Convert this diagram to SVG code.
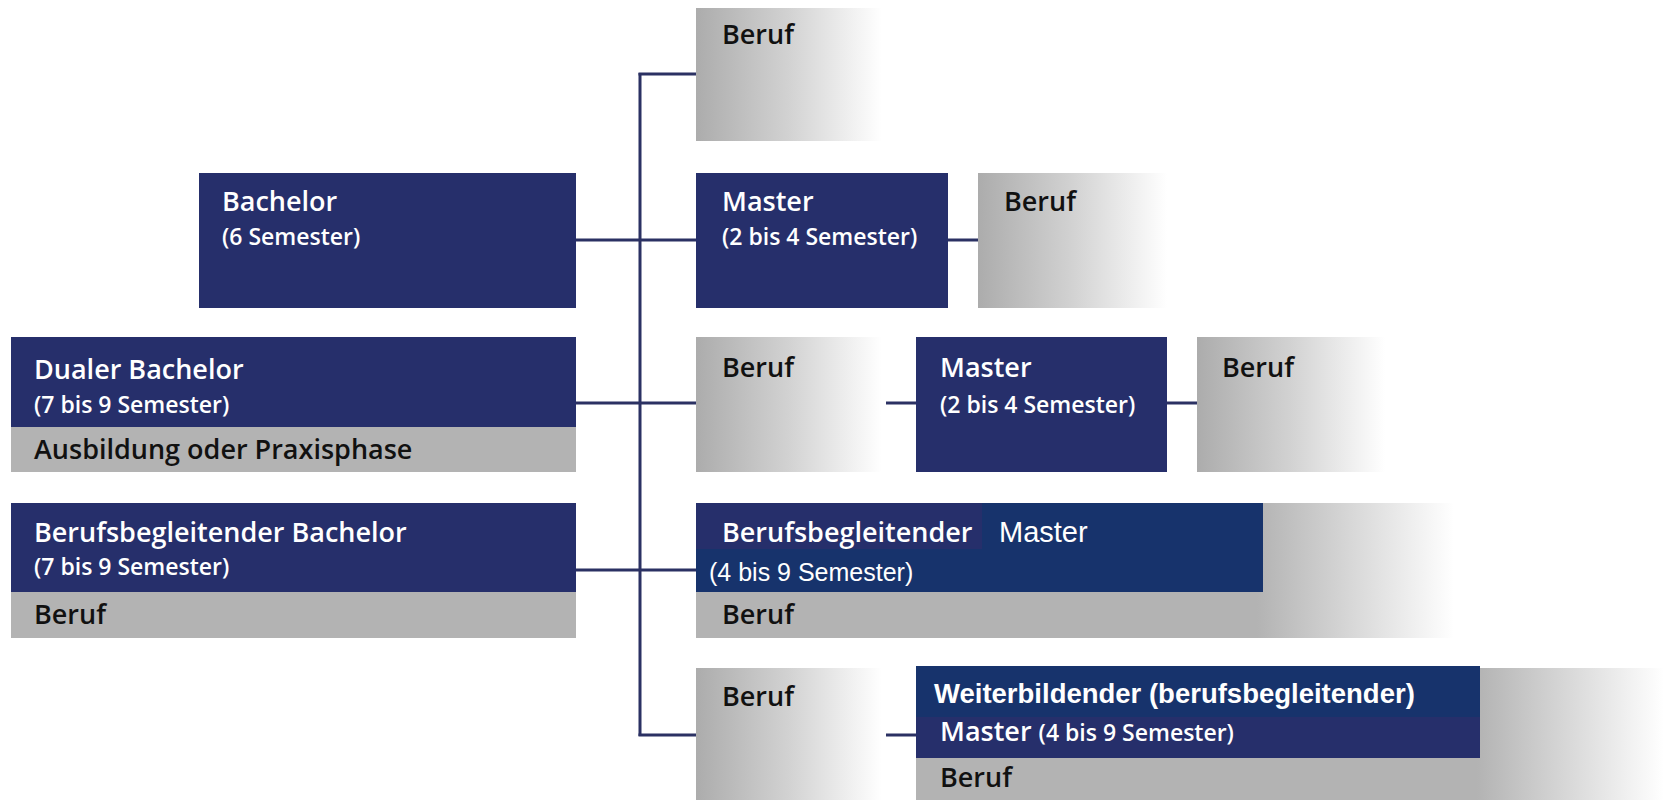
<svg xmlns="http://www.w3.org/2000/svg" width="1664" height="800" viewBox="0 0 1664 800">
<style>
.navy{fill:#262f6b}
.navy2{fill:#17336c}
.gray{fill:#b3b3b3}
.t{font-family:"Open Sans","Noto Sans","DejaVu Sans",sans-serif;font-weight:600;fill:#ffffff}
.tk{font-family:"Open Sans","Noto Sans","DejaVu Sans",sans-serif;font-weight:600;fill:#111111}
.big{font-size:27px}
.sm{font-size:23px}
.a{font-family:"Liberation Sans",Arial,sans-serif;fill:#ffffff}
.conn line{stroke:#2b3163;stroke-width:3}
</style>
<defs>
<linearGradient id="fade" x1="0" y1="0" x2="1" y2="0">
<stop offset="0" stop-color="#acacac"/>
<stop offset="0.5" stop-color="#d2d2d2"/>
<stop offset="1" stop-color="#ffffff"/>
</linearGradient>
<linearGradient id="fade4" x1="696" y1="0" x2="1454" y2="0" gradientUnits="userSpaceOnUse">
<stop offset="0" stop-color="#b3b3b3"/>
<stop offset="0.74" stop-color="#b3b3b3"/>
<stop offset="1" stop-color="#ffffff"/>
</linearGradient>
<linearGradient id="fade5" x1="916" y1="0" x2="1664" y2="0" gradientUnits="userSpaceOnUse">
<stop offset="0" stop-color="#b3b3b3"/>
<stop offset="0.75" stop-color="#b3b3b3"/>
<stop offset="1" stop-color="#ffffff"/>
</linearGradient>
</defs>
<rect width="1664" height="800" fill="#ffffff"/>

<g id="connectors" class="conn">
<line x1="640" y1="73" x2="640" y2="736"/>
<line x1="638.5" y1="74" x2="696" y2="74"/>
<line x1="576" y1="240" x2="696" y2="240"/>
<line x1="948" y1="240" x2="978" y2="240"/>
<line x1="576" y1="403" x2="696" y2="403"/>
<line x1="886" y1="403" x2="916" y2="403"/>
<line x1="1167" y1="403" x2="1197" y2="403"/>
<line x1="576" y1="570" x2="696" y2="570"/>
<line x1="638.5" y1="735" x2="696" y2="735"/>
<line x1="886" y1="735" x2="916" y2="735"/>
</g>

<g id="bachelor">
<rect class="navy" x="199" y="173" width="377" height="135"/>
<text class="t big" x="222" y="211">Bachelor</text>
<text class="t sm" x="222" y="245">(6 Semester)</text>
</g>

<g id="dualer-bachelor">
<rect class="navy" x="11" y="337" width="565" height="90"/>
<rect class="gray" x="11" y="427" width="565" height="45"/>
<text class="t big" x="34" y="379">Dualer Bachelor</text>
<text class="t sm" x="34" y="413">(7 bis 9 Semester)</text>
<text class="tk big" x="34" y="459">Ausbildung oder Praxisphase</text>
</g>

<g id="berufsbegleitender-bachelor">
<rect class="navy" x="11" y="503" width="565" height="89"/>
<rect class="gray" x="11" y="592" width="565" height="46"/>
<text class="t big" x="34" y="542">Berufsbegleitender Bachelor</text>
<text class="t sm" x="34" y="575">(7 bis 9 Semester)</text>
<text class="tk big" x="34" y="624">Beruf</text>
</g>

<g id="beruf-1">
<rect fill="url(#fade)" x="696" y="8" width="186" height="133"/>
<text class="tk big" x="722" y="44">Beruf</text>
</g>

<g id="master-1">
<rect class="navy" x="696" y="173" width="252" height="135"/>
<text class="t big" x="722" y="211">Master</text>
<text class="t sm" x="722" y="245">(2 bis 4 Semester)</text>
</g>

<g id="beruf-2">
<rect fill="url(#fade)" x="978" y="173" width="189" height="135"/>
<text class="tk big" x="1004" y="211">Beruf</text>
</g>

<g id="beruf-3">
<rect fill="url(#fade)" x="696" y="337" width="186" height="135"/>
<text class="tk big" x="722" y="377">Beruf</text>
</g>

<g id="master-2">
<rect class="navy" x="916" y="337" width="251" height="135"/>
<text class="t big" x="940" y="377">Master</text>
<text class="t sm" x="940" y="413">(2 bis 4 Semester)</text>
</g>

<g id="beruf-4">
<rect fill="url(#fade)" x="1197" y="337" width="188" height="135"/>
<text class="tk big" x="1222" y="377">Beruf</text>
</g>

<g id="berufsbegleitender-master">
<rect fill="url(#fade4)" x="696" y="503" width="758" height="135"/>
<rect class="navy2" x="696" y="503" width="567" height="89"/>
<rect class="navy" x="696" y="503" width="286" height="46"/>
<text class="t big" x="722" y="542">Berufsbegleitender</text>
<text class="a" font-size="29" x="999" y="542">Master</text>
<text class="a" font-size="25" x="709" y="581">(4 bis 9 Semester)</text>
<text class="tk big" x="722" y="624">Beruf</text>
</g>

<g id="beruf-5">
<rect fill="url(#fade)" x="696" y="668" width="186" height="132"/>
<text class="tk big" x="722" y="706">Beruf</text>
</g>

<g id="weiterbildender-master">
<rect fill="url(#fade5)" x="916" y="668" width="748" height="132"/>
<rect class="navy" x="916" y="666" width="564" height="92"/>
<rect class="navy2" x="916" y="666" width="564" height="51"/>
<text class="a" font-size="27.5" font-weight="bold" x="934" y="703">Weiterbildender (berufsbegleitender)</text>
<text class="t big" x="940" y="741">Master <tspan class="sm">(4 bis 9 Semester)</tspan></text>
<text class="tk big" x="940" y="787">Beruf</text>
</g>
</svg>
